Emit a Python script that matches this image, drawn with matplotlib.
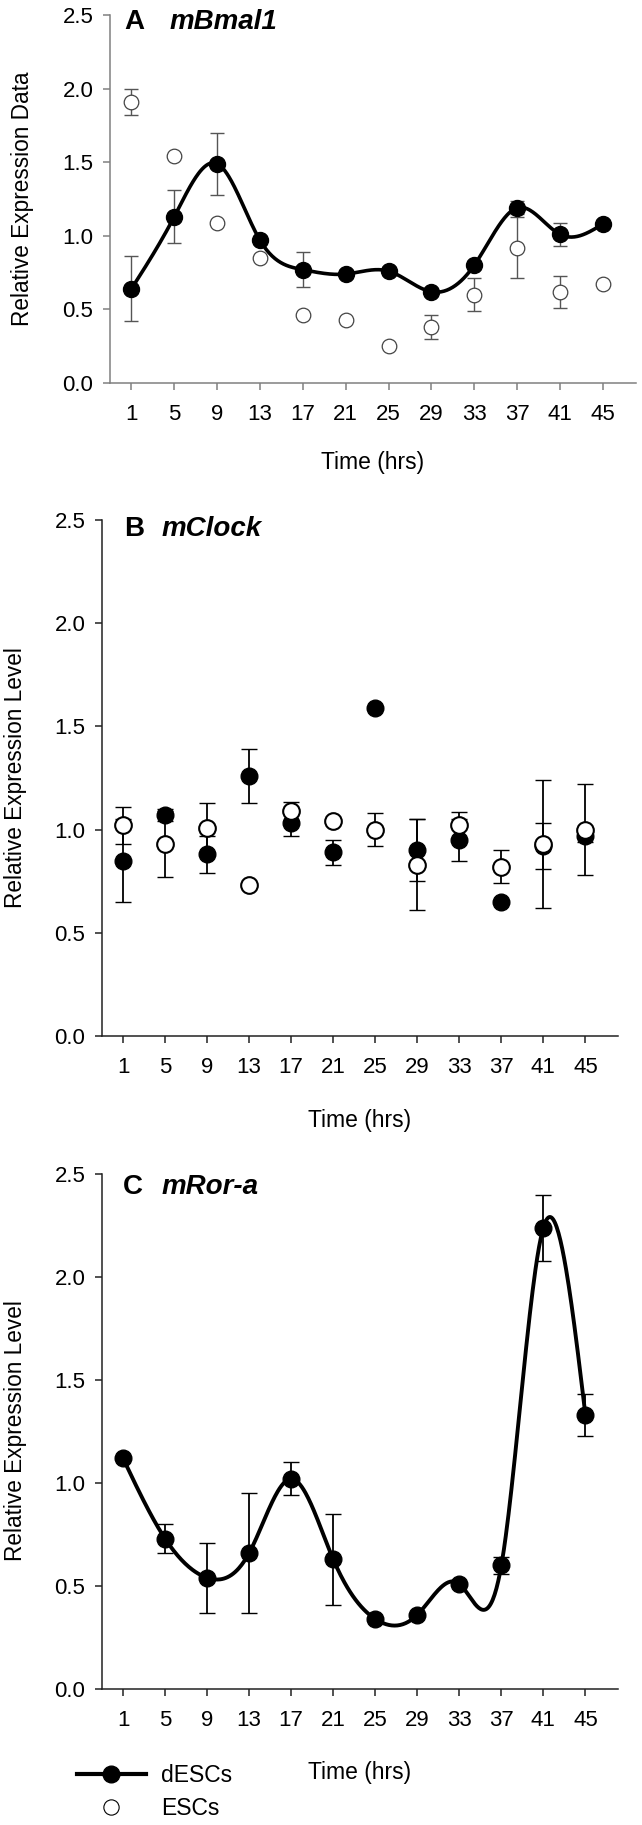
import numpy as np
import matplotlib.pyplot as plt
from matplotlib.lines import Line2D

plt.rcParams['font.family'] = ['Liberation Sans', 'DejaVu Sans']

hours = [1, 5, 9, 13, 17, 21, 25, 29, 33, 37, 41, 45]

# A - mBmal1
bmal_d = [0.64, 1.13, 1.49, 0.97, 0.77, 0.74, 0.76, 0.62, 0.80, 1.19, 1.01, 1.08]
bmal_d_err = [0.22, 0.18, 0.21, 0, 0.12, 0, 0, 0, 0, 0.045, 0.08, 0]
bmal_e = [1.91, 1.54, 1.09, 0.85, 0.46, 0.43, 0.25, 0.38, 0.60, 0.92, 0.62, 0.67]
bmal_e_err = [0.09, 0, 0, 0, 0, 0, 0, 0.08, 0.11, 0.21, 0.11, 0]

# B - mClock
clock_d = [0.85, 1.07, 0.88, 1.26, 1.03, 0.89, 1.59, 0.90, 0.95, 0.65, 0.92, 0.97]
clock_d_err = [0.20, 0.03, 0.09, 0.13, 0.06, 0.06, 0, 0.15, 0.10, 0, 0.11, 0.03]
clock_e = [1.02, 0.93, 1.01, 0.73, 1.09, 1.04, 1.00, 0.83, 1.02, 0.82, 0.93, 1.00]
clock_e_err = [0.09, 0.16, 0.12, 0, 0.045, 0, 0.08, 0.22, 0.065, 0.08, 0.31, 0.22]

# C - mRor-a (dESCs only)
rora_d = [1.12, 0.73, 0.54, 0.66, 1.02, 0.63, 0.34, 0.36, 0.51, 0.60, 2.24, 1.33]
rora_d_err = [0, 0.07, 0.17, 0.29, 0.08, 0.22, 0, 0, 0, 0.04, 0.16, 0.10]


def natural_spline(x, y, n=500):
    # natural cubic spline through the points (smooth curve like the original)
    x = np.asarray(x, float)
    y = np.asarray(y, float)
    k = len(x)
    h = np.diff(x)
    A = np.zeros((k, k))
    b = np.zeros(k)
    A[0, 0] = A[-1, -1] = 1
    for i in range(1, k - 1):
        A[i, i - 1] = h[i - 1]
        A[i, i] = 2 * (h[i - 1] + h[i])
        A[i, i + 1] = h[i]
        b[i] = 3 * ((y[i + 1] - y[i]) / h[i] - (y[i] - y[i - 1]) / h[i - 1])
    c = np.linalg.solve(A, b)
    xs = np.linspace(x[0], x[-1], n)
    idx = np.clip(np.searchsorted(x, xs) - 1, 0, k - 2)
    dx = xs - x[idx]
    bb = (y[idx + 1] - y[idx]) / h[idx] - h[idx] * (2 * c[idx] + c[idx + 1]) / 3
    d = (c[idx + 1] - c[idx]) / (3 * h[idx])
    return xs, y[idx] + bb * dx + c[idx] * dx ** 2 + d * dx ** 3


W, H = 642, 1825
fig = plt.figure(figsize=(W / 100, H / 100), dpi=100)


def px_axes(left, right, top, bottom):
    return fig.add_axes([left / W, 1 - bottom / H, (right - left) / W, (bottom - top) / H])


def style(ax, col):
    ax.set_xlim(-1.0, 48.1)
    ax.set_ylim(0, 2.5)
    ax.set_xticks(hours)
    ax.set_yticks([0, 0.5, 1.0, 1.5, 2.0, 2.5])
    ax.set_yticklabels(['0.0', '0.5', '1.0', '1.5', '2.0', '2.5'])
    for s in ['top', 'right']:
        ax.spines[s].set_visible(False)
    for s in ['left', 'bottom']:
        ax.spines[s].set_color(col)
        ax.spines[s].set_linewidth(1.1)
    ax.tick_params(axis='both', direction='out', length=5, width=1.1, color=col,
                   labelsize=16, labelcolor='black')
    ax.tick_params(axis='x', pad=10)
    ax.tick_params(axis='y', pad=7)
    ax.patch.set_alpha(0)


def title(ax, letter, gene, xl, xg, y):
    ax.text(xl, y, letter, transform=ax.transAxes, fontsize=20, fontweight='bold', va='center')
    ax.text(xg, y, gene, transform=ax.transAxes, fontsize=20, fontweight='bold',
            fontstyle='italic', va='center')


# Panel A
axA = px_axes(110, 636, 15, 383)
style(axA, '#808080')
axA.errorbar(hours, bmal_e, yerr=bmal_e_err, fmt='none', ecolor='#555555', elinewidth=1, capsize=5, zorder=2)
axA.errorbar(hours, bmal_d, yerr=bmal_d_err, fmt='none', ecolor='#555555', elinewidth=1, capsize=5, zorder=2)
xs, ys = natural_spline(hours, bmal_d)
axA.plot(xs, ys, color='black', lw=2.6, zorder=3)
axA.plot(hours, bmal_d, 'o', ms=11.5, mfc='black', mec='black', zorder=4)
axA.plot(hours, bmal_e, 'o', ms=10.5, mfc='white', mec='#444444', mew=0.9, zorder=4)
title(axA, 'A', 'mBmal1', 0.027, 0.114, 0.98)
fig.text(23 / W, 1 - 199 / H, 'Relative Expression Data', rotation=90, fontsize=16.3,
         ha='center', va='center')
fig.text(373 / W, 1 - 463 / H, 'Time (hrs)', fontsize=16.5, ha='center', va='center')

# Panel B
axB = px_axes(102, 618, 520, 1036)
style(axB, '#222222')
axB.errorbar(hours, clock_d, yerr=clock_d_err, fmt='none', ecolor='black', elinewidth=1.3, capsize=6, zorder=2)
axB.errorbar(hours, clock_e, yerr=clock_e_err, fmt='none', ecolor='black', elinewidth=1.3, capsize=6, zorder=2)
axB.plot(hours, clock_d, 'o', ms=12, mfc='black', mec='black', zorder=3)
axB.plot(hours, clock_e, 'o', ms=12, mfc='white', mec='black', mew=1.5, zorder=4)
title(axB, 'B', 'mClock', 0.043, 0.116, 0.983)
fig.text(16 / W, 1 - 778 / H, 'Relative Expression Level', rotation=90, fontsize=16.3,
         ha='center', va='center')
fig.text(360 / W, 1 - 1120 / H, 'Time (hrs)', fontsize=16.5, ha='center', va='center')

# Panel C
axC = px_axes(102, 618, 1174, 1689)
style(axC, '#222222')
axC.errorbar(hours, rora_d, yerr=rora_d_err, fmt='none', ecolor='black', elinewidth=1.3, capsize=6, zorder=2)
xs, ys = natural_spline(hours, rora_d)
axC.plot(xs, ys, color='black', lw=2.8, zorder=3)
axC.plot(hours, rora_d, 'o', ms=12, mfc='black', mec='black', zorder=4)
title(axC, 'C', 'mRor-a', 0.041, 0.116, 0.975)
fig.text(16 / W, 1 - 1431 / H, 'Relative Expression Level', rotation=90, fontsize=16.3,
         ha='center', va='center')
fig.text(360 / W, 1 - 1773 / H, 'Time (hrs)', fontsize=16.5, ha='center', va='center')

# legend at the bottom
handles = [Line2D([], [], color='black', lw=3, marker='o', ms=12, mfc='black'),
           Line2D([], [], ls='none', marker='o', ms=11, mfc='white', mec='black', mew=0.8)]
fig.legend(handles, ['dESCs', 'ESCs'], loc='center left', bbox_to_anchor=(77 / W, 1 - 1792 / H),
           frameon=False, fontsize=16.5, handlelength=3.0, handletextpad=0.65, labelspacing=0.4,
           borderpad=0, borderaxespad=0)

fig.savefig('out.png', dpi=100)
